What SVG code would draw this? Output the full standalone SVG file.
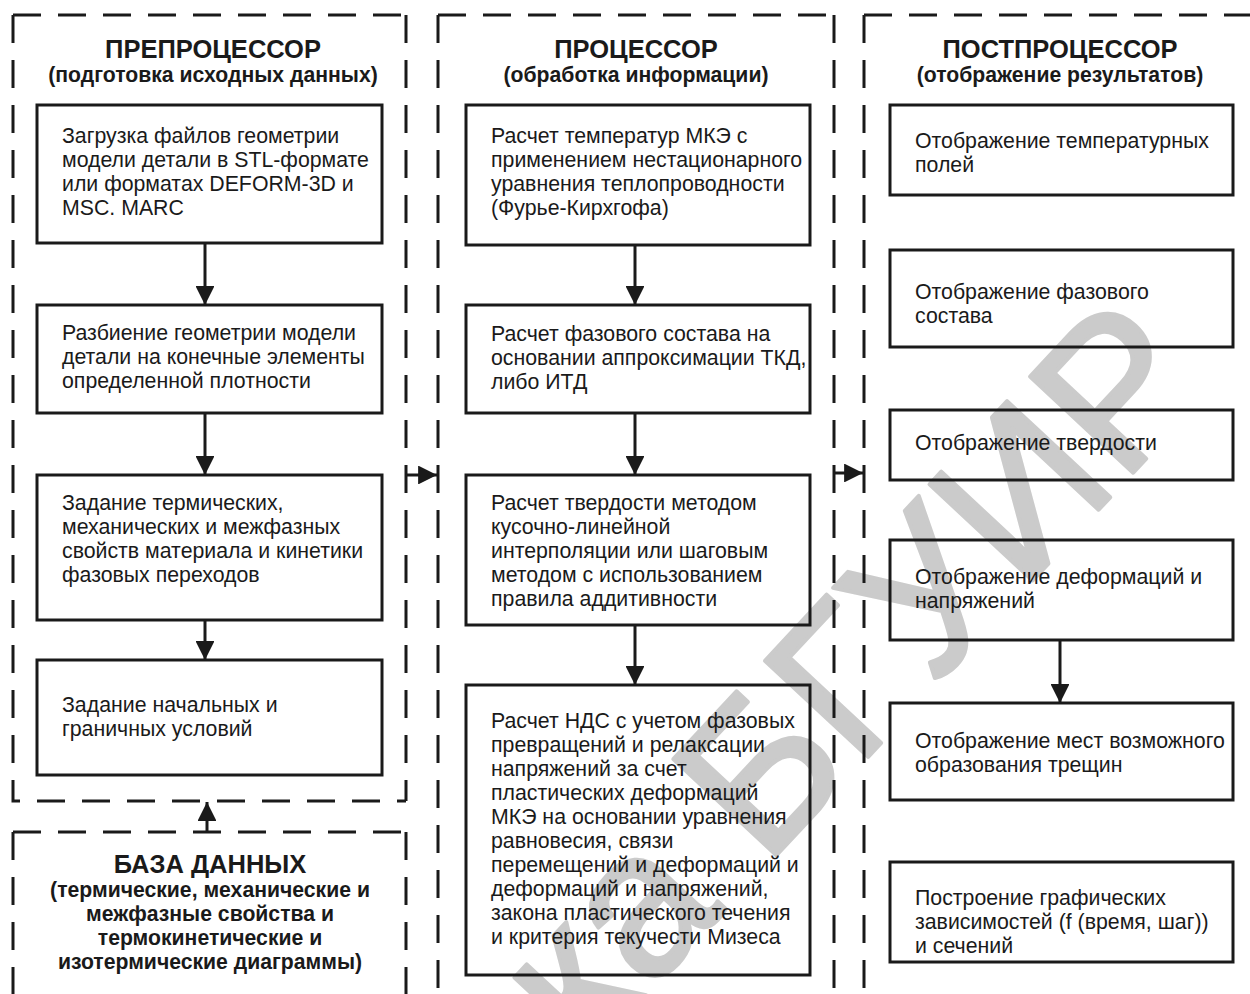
<svg xmlns="http://www.w3.org/2000/svg" width="1250" height="994" viewBox="0 0 1250 994">
  <defs>
    <style>
      .frame { fill: none; stroke: #1a1a1a; stroke-width: 3; stroke-dasharray: 28 17; }
      .box { fill: none; stroke: #1a1a1a; stroke-width: 3; }
      .txt { font-family: "Liberation Sans", Arial, sans-serif; font-size: 21.3px; fill: #1a1a1a; }
      .title { font-family: "Liberation Sans", Arial, sans-serif; font-size: 25.5px; font-weight: bold; fill: #1a1a1a; text-anchor: middle; }
      .sub { font-family: "Liberation Sans", Arial, sans-serif; font-size: 21.2px; font-weight: bold; fill: #1a1a1a; text-anchor: middle; }
      .link { fill: none; stroke: #1a1a1a; stroke-width: 3; }
      .wm { font-family: "Liberation Sans", Arial, sans-serif; font-size: 205px; fill: #cbcbcb; stroke: #cbcbcb; stroke-width: 4; stroke-linejoin: round; }
    </style>
    <marker id="arrow" viewBox="0 0 10 10" refX="10" refY="5" markerWidth="6.3" markerHeight="6.3" markerUnits="strokeWidth" orient="auto">
      <path d="M0,0 L10,5 L0,10 Z" fill="#1a1a1a"/>
    </marker>
  </defs>

  <rect width="1250" height="994" fill="#ffffff"/>

  <!-- library stamp -->
  <text class="wm" text-anchor="end" transform="translate(1215,385) rotate(-47)">Библиотека БГУИР</text>

  <!-- dashed section frames -->
  <g id="frames">
    <path class="frame" d="M13,15 H406 M13,15 V801 H406 M406,15 V801"/>
    <path class="frame" d="M438,15 H834 M438,15 V994 M834,15 V994"/>
    <path class="frame" d="M864,15 H1250 M864,15 V994"/>
    <path class="frame" d="M13,832 H406 M13,832 V994 M406,832 V994"/>
  </g>

  <!-- section headings -->
  <g id="pre-title">
    <text class="title" x="213" y="58">ПРЕПРОЦЕССОР</text>
    <text class="sub" x="213" y="82">(подготовка исходных данных)</text>
  </g>
  <g id="proc-title">
    <text class="title" x="636" y="58">ПРОЦЕССОР</text>
    <text class="sub" x="636" y="82">(обработка информации)</text>
  </g>
  <g id="post-title">
    <text class="title" x="1060" y="58">ПОСТПРОЦЕССОР</text>
    <text class="sub" x="1060" y="82">(отображение результатов)</text>
  </g>

  <!-- preprocessor steps -->
  <g id="pre-1">
    <rect class="box" x="37" y="105" width="345" height="138"/>
    <text class="txt" x="62" y="143">Загрузка файлов геометрии</text>
    <text class="txt" x="62" y="167">модели детали в STL-формате</text>
    <text class="txt" x="62" y="191">или форматах DEFORM-3D и</text>
    <text class="txt" x="62" y="215">MSC. MARC</text>
  </g>
  <g id="pre-2">
    <rect class="box" x="37" y="305" width="345" height="108"/>
    <text class="txt" x="62" y="340">Разбиение геометрии модели</text>
    <text class="txt" x="62" y="364">детали на конечные элементы</text>
    <text class="txt" x="62" y="388">определенной плотности</text>
  </g>
  <g id="pre-3">
    <rect class="box" x="37" y="475" width="345" height="145"/>
    <text class="txt" x="62" y="510">Задание термических,</text>
    <text class="txt" x="62" y="534">механических и межфазных</text>
    <text class="txt" x="62" y="558">свойств материала и кинетики</text>
    <text class="txt" x="62" y="582">фазовых переходов</text>
  </g>
  <g id="pre-4">
    <rect class="box" x="37" y="660" width="345" height="115"/>
    <text class="txt" x="62" y="712">Задание начальных и</text>
    <text class="txt" x="62" y="736">граничных условий</text>
  </g>

  <!-- processor steps -->
  <g id="proc-1">
    <rect class="box" x="466" y="105" width="344" height="140"/>
    <text class="txt" x="491" y="143">Расчет температур МКЭ с</text>
    <text class="txt" x="491" y="167">применением нестационарного</text>
    <text class="txt" x="491" y="191">уравнения теплопроводности</text>
    <text class="txt" x="491" y="215">(Фурье-Кирхгофа)</text>
  </g>
  <g id="proc-2">
    <rect class="box" x="466" y="305" width="344" height="108"/>
    <text class="txt" x="491" y="341">Расчет фазового состава на</text>
    <text class="txt" x="491" y="365">основании аппроксимации ТКД,</text>
    <text class="txt" x="491" y="389">либо ИТД</text>
  </g>
  <g id="proc-3">
    <rect class="box" x="466" y="475" width="344" height="150"/>
    <text class="txt" x="491" y="510">Расчет твердости методом</text>
    <text class="txt" x="491" y="534">кусочно-линейной</text>
    <text class="txt" x="491" y="558">интерполяции или шаговым</text>
    <text class="txt" x="491" y="582">методом с использованием</text>
    <text class="txt" x="491" y="606">правила аддитивности</text>
  </g>
  <g id="proc-4">
    <rect class="box" x="466" y="685" width="344" height="290"/>
    <text class="txt" x="491" y="728">Расчет НДС с учетом фазовых</text>
    <text class="txt" x="491" y="752">превращений и релаксации</text>
    <text class="txt" x="491" y="776">напряжений за счет</text>
    <text class="txt" x="491" y="800">пластических деформаций</text>
    <text class="txt" x="491" y="824">МКЭ на основании уравнения</text>
    <text class="txt" x="491" y="848">равновесия, связи</text>
    <text class="txt" x="491" y="872">перемещений и деформаций и</text>
    <text class="txt" x="491" y="896">деформаций и напряжений,</text>
    <text class="txt" x="491" y="920">закона пластического течения</text>
    <text class="txt" x="491" y="944">и критерия текучести Мизеса</text>
  </g>

  <!-- postprocessor outputs -->
  <g id="post-1">
    <rect class="box" x="890" y="105" width="343" height="90"/>
    <text class="txt" x="915" y="148">Отображение температурных</text>
    <text class="txt" x="915" y="172">полей</text>
  </g>
  <g id="post-2">
    <rect class="box" x="890" y="250" width="343" height="97"/>
    <text class="txt" x="915" y="299">Отображение фазового</text>
    <text class="txt" x="915" y="323">состава</text>
  </g>
  <g id="post-3">
    <rect class="box" x="890" y="410" width="343" height="70"/>
    <text class="txt" x="915" y="450">Отображение твердости</text>
  </g>
  <g id="post-4">
    <rect class="box" x="890" y="540" width="343" height="100"/>
    <text class="txt" x="915" y="584">Отображение деформаций и</text>
    <text class="txt" x="915" y="608">напряжений</text>
  </g>
  <g id="post-5">
    <rect class="box" x="890" y="703" width="343" height="97"/>
    <text class="txt" x="915" y="748">Отображение мест возможного</text>
    <text class="txt" x="915" y="772">образования трещин</text>
  </g>
  <g id="post-6">
    <rect class="box" x="890" y="862" width="343" height="100"/>
    <text class="txt" x="915" y="905">Построение графических</text>
    <text class="txt" x="915" y="929">зависимостей (f (время, шаг))</text>
    <text class="txt" x="915" y="953">и сечений</text>
  </g>

  <!-- database -->
  <g id="database">
    <text class="title" x="210" y="873">БАЗА ДАННЫХ</text>
    <text class="sub" x="210" y="897">(термические, механические и</text>
    <text class="sub" x="210" y="921">межфазные свойства и</text>
    <text class="sub" x="210" y="945">термокинетические и</text>
    <text class="sub" x="210" y="969">изотермические диаграммы)</text>
  </g>

  <!-- connectors -->
  <g id="connectors">
    <line class="link" x1="205" y1="243" x2="205" y2="305" marker-end="url(#arrow)"/>
    <line class="link" x1="205" y1="413" x2="205" y2="475" marker-end="url(#arrow)"/>
    <line class="link" x1="205" y1="620" x2="205" y2="660" marker-end="url(#arrow)"/>
    <line class="link" x1="635" y1="245" x2="635" y2="305" marker-end="url(#arrow)"/>
    <line class="link" x1="635" y1="413" x2="635" y2="475" marker-end="url(#arrow)"/>
    <line class="link" x1="635" y1="625" x2="635" y2="685" marker-end="url(#arrow)"/>
    <line class="link" x1="1060" y1="640" x2="1060" y2="703" marker-end="url(#arrow)"/>
    <line class="link" x1="406" y1="475" x2="437" y2="475" marker-end="url(#arrow)"/>
    <line class="link" x1="834" y1="473" x2="863" y2="473" marker-end="url(#arrow)"/>
    <line class="link" x1="207" y1="832" x2="207" y2="802" marker-end="url(#arrow)"/>
  </g>
</svg>
